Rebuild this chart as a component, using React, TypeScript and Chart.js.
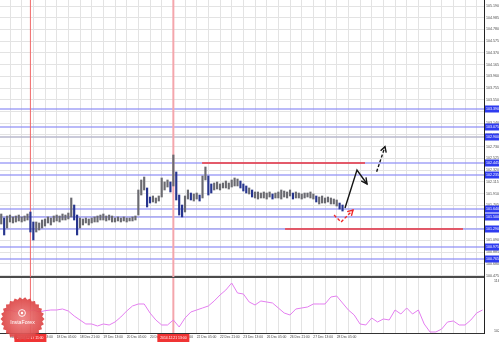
import React, { useEffect, useRef } from 'react';
import { Chart, registerables } from 'chart.js';

Chart.register(...registerables);

const FONT = 'Liberation Sans';

// time axis (hours)
const X_MIN = 1.143;
const X_MAX = 333.0;
const BAR_START_HOUR = 2;
const BAR_STEP_HOURS = 2;
const GRID_STEP_HOURS = 8;

const xLabelHours = [8, 24, 40, 56, 72, 88, 104, 120, 136, 152, 168, 184, 200, 216, 232];
const xLabels = [
  '16 Dec 21:00', '17 Dec 13:00', '18 Dec 05:00', '18 Dec 21:00', '19 Dec 13:00',
  '20 Dec 05:00', '20 Dec 21:00', '21 Dec 13:00', '22 Dec 05:00', '22 Dec 21:00',
  '23 Dec 13:00', '26 Dec 05:00', '26 Dec 21:00', '27 Dec 13:00', '28 Dec 05:00',
];

// price axis
const Y_MIN = 100.45;
const Y_MAX = 105.295;
const priceTicks = [
  105.19, 104.985, 104.78, 104.575, 104.37, 104.165, 103.96, 103.755, 103.55, 103.345,
  103.14, 102.935, 102.73, 102.525, 102.32, 102.115, 101.91, 101.705, 101.5, 101.295,
  101.09, 100.885, 100.68, 100.475,
];

// price bars (2h)
const barHigh = [
  101.552, 101.482, 101.517, 101.534, 101.5, 101.517, 101.534, 101.5, 101.517, 101.552,
  101.587, 101.412, 101.412, 101.395, 101.447, 101.465, 101.5, 101.482, 101.517, 101.534,
  101.517, 101.552, 101.534, 101.569, 101.832, 101.709, 101.534, 101.482, 101.465, 101.482,
  101.465, 101.482, 101.5, 101.517, 101.534, 101.552, 101.517, 101.534, 101.517, 101.482,
  101.5, 101.482, 101.5, 101.482, 101.482, 101.5, 101.517, 101.972, 102.147, 102.199,
  102.007, 101.849, 101.867, 101.832, 101.867, 102.182, 102.112, 102.147, 102.112, 102.584,
  102.287, 101.884, 101.709, 101.867, 101.972, 101.919, 101.902, 101.919, 101.884, 102.217,
  102.374, 102.217, 102.077, 102.094, 102.112, 102.077, 102.094, 102.129, 102.094, 102.147,
  102.182, 102.164, 102.129, 102.077, 102.042, 102.007, 101.972, 101.937, 101.937, 101.919,
  101.937, 101.919, 101.937, 101.902, 101.919, 101.937, 101.972, 101.954, 101.937, 101.972,
  101.919, 101.937, 101.919, 101.902, 101.919, 101.919, 101.937, 101.902, 101.867, 101.849,
  101.867, 101.832, 101.849, 101.832, 101.814, 101.797, 101.744, 101.709,
];
const barLow = [
  101.377, 101.185, 101.307, 101.412, 101.395, 101.412, 101.43, 101.412, 101.43, 101.447,
  101.237, 101.097, 101.237, 101.272, 101.307, 101.342, 101.395, 101.36, 101.412, 101.43,
  101.412, 101.447, 101.447, 101.465, 101.5, 101.447, 101.185, 101.307, 101.36, 101.395,
  101.36, 101.395, 101.412, 101.412, 101.447, 101.447, 101.43, 101.447, 101.412, 101.412,
  101.43, 101.412, 101.43, 101.412, 101.43, 101.43, 101.447, 101.534, 101.884, 101.972,
  101.674, 101.744, 101.762, 101.744, 101.779, 101.849, 101.972, 102.024, 101.937, 102.042,
  101.797, 101.534, 101.5, 101.587, 101.814, 101.797, 101.779, 101.814, 101.779, 101.832,
  102.147, 101.884, 101.919, 101.972, 101.989, 101.972, 102.007, 102.007, 101.989, 102.024,
  102.042, 102.042, 102.007, 101.954, 101.919, 101.902, 101.849, 101.832, 101.814, 101.832,
  101.832, 101.814, 101.849, 101.814, 101.832, 101.832, 101.814, 101.849, 101.832, 101.867,
  101.814, 101.832, 101.832, 101.814, 101.832, 101.849, 101.832, 101.814, 101.762, 101.727,
  101.744, 101.744, 101.762, 101.727, 101.727, 101.692, 101.639, 101.604,
];

// horizontal levels
const blueLinePrices = [103.39, 103.075, 102.445, 102.235, 101.64, 101.5, 101.29, 100.975, 100.765];
const grayLinePrices = [102.9];
const redSegStart = [139.7, 196.6];
const redSegEnd = [251.4, 318.6];
const redSegPrice = [102.445, 101.29];

// vertical lines
const vLineHours = [22, 120];
const vLineLabels = ['2014.12.17 11:00', '2014.12.21 13:00'];

// forecast arrows
const solidArrowHours = [237.7, 245.9, 252.8];
const solidArrowPrices = [101.657, 102.322, 102.077];
const solidHeadHours = [252.1, 252.8, 248.8];
const solidHeadPrices = [102.194, 102.077, 102.131];
const dashArrowHours = [259.4, 265.1];
const dashArrowPrices = [102.292, 102.729];
const dashHeadHours = [262.1, 265.1, 265.95];
const dashHeadPrices = [102.659, 102.729, 102.626];
const redVHours = [230.2, 235.0, 243.2];
const redVPrices = [101.534, 101.412, 101.622];
const redVHeadHours = [239.2, 243.2, 242.1];
const redVHeadPrices = [101.594, 101.622, 101.52];

// indicator panel
const IND_MIN = 101.503;
const IND_MAX = 117.138;
const indTicks = [116.285, 102.072];
const indHours = [
  4, 8, 12, 16, 20, 24, 28, 32, 36, 40, 44, 48, 52, 56, 60, 64, 68, 72, 76, 80,
  84, 88, 92, 96, 100, 104, 108, 112, 116, 120, 124, 128, 132, 136, 140, 144, 148, 152, 156, 160,
  164, 168, 172, 176, 180, 184, 188, 192, 196, 200, 204, 208, 212, 216, 220, 224, 228, 232, 236, 240,
  244, 248, 252, 256, 260, 264, 268, 272, 276, 280, 284, 288, 292, 296, 300, 304, 308, 312, 316, 320,
  324, 328, 332,
];
const indValues = [
  107.757, 108.042, 107.473, 108.326, 107.757, 108.042, 107.473, 107.843, 108.042, 108.042,
  108.326, 107.757, 106.336, 105.199, 104.062, 104.062, 103.493, 104.062, 103.778, 104.631,
  106.052, 107.757, 109.179, 109.747, 109.747, 107.189, 105.199, 103.778, 103.778, 105.199,
  103.209, 105.768, 107.473, 108.042, 108.61, 109.179, 110.6, 112.306, 113.727, 115.716,
  112.874, 112.59, 110.316, 109.463, 110.6, 110.316, 110.031, 108.61, 107.189, 106.62,
  108.326, 108.61, 108.894, 109.747, 109.747, 109.747, 111.737, 112.021, 110.031, 108.042,
  106.62, 104.062, 103.778, 105.768, 104.631, 105.483, 105.199, 108.042, 106.905, 108.61,
  106.905, 108.042, 104.062, 101.788, 101.788, 102.641, 104.631, 104.915, 103.778, 103.778,
  105.199, 107.189, 108.042,
];

const GRID = '#e3e3e3';
const GRAY_BAR = '#6a6a70';
const NAVY_BAR = '#27358e';

const gridTicks = () => {
  const t: { value: number }[] = [];
  for (let v = GRID_STEP_HOURS; v < X_MAX; v += GRID_STEP_HOURS) t.push({ value: v });
  return t;
};

const lineDs = (hours: number[], prices: number[], color: string, width: number, dash: number[], order: number) => ({
  type: 'line' as const,
  data: hours.map((h, i) => ({ x: h, y: prices[i] })),
  borderColor: color,
  borderWidth: width,
  borderDash: dash,
  pointRadius: 0,
  fill: false,
  tension: 0,
  order,
});

const priceBoxPlugin = {
  id: 'priceBoxes',
  afterDraw(chart: any) {
    const { ctx, chartArea } = chart;
    const ys = chart.scales.y;
    ctx.save();
    ctx.font = `3.6px ${FONT}`;
    ctx.textBaseline = 'middle';
    ctx.textAlign = 'left';
    [...blueLinePrices, ...grayLinePrices].forEach((p) => {
      const py = ys.getPixelForValue(p);
      ctx.fillStyle = '#2f3cf0';
      ctx.fillRect(chartArea.right + 1, Math.round(py) - 3.5, chart.width - chartArea.right - 1, 7);
      ctx.fillStyle = '#ffffff';
      ctx.fillText(p.toFixed(3), chartArea.right + 2, py);
    });
    ctx.restore();
  },
};

const timeBoxPlugin = {
  id: 'timeBoxes',
  afterDraw(chart: any) {
    const { ctx, chartArea } = chart;
    const xs = chart.scales.x;
    ctx.save();
    ctx.font = `3.4px ${FONT}`;
    ctx.textBaseline = 'middle';
    ctx.textAlign = 'center';
    vLineHours.forEach((h, i) => {
      const px = xs.getPixelForValue(h);
      ctx.fillStyle = '#f03434';
      ctx.fillRect(px - 16, chartArea.bottom + 1, 32, 8);
      ctx.fillStyle = '#ffffff';
      ctx.fillText(vLineLabels[i], px, chartArea.bottom + 5);
    });
    ctx.restore();
  },
};

function Logo() {
  const pts: string[] = [];
  const n = 26;
  for (let i = 0; i < n * 2; i++) {
    const r = i % 2 === 0 ? 22 : 19.8;
    const a = (Math.PI * i) / n;
    pts.push(`${(22.5 + r * Math.cos(a)).toFixed(2)},${(23 + r * Math.sin(a)).toFixed(2)}`);
  }
  return (
    <svg width={46} height={46} style={{ position: 'fixed', left: 0, top: 296 }}>
      <defs>
        <radialGradient id="lgrad">
          <stop offset="0%" stopColor="#ec8080" />
          <stop offset="100%" stopColor="#dc4444" />
        </radialGradient>
      </defs>
      <polygon points={pts.join(' ')} fill="url(#lgrad)" opacity={0.93} />
      <circle cx={22} cy={17} r={3.4} fill="none" stroke="#ffffff" strokeWidth={0.9} />
      <circle cx={22} cy={17} r={1.2} fill="#ffffff" />
      <text x={22.5} y={27.5} fontSize={5.2} fill="#ffffff" textAnchor="middle" fontFamily={FONT}>
        InstaForex
      </text>
    </svg>
  );
}

export default function App() {
  const topRef = useRef<HTMLCanvasElement>(null);
  const botRef = useRef<HTMLCanvasElement>(null);

  useEffect(() => {
    document.body.style.margin = '0';
    Chart.defaults.font.family = FONT;

    const datasets: any[] = [];
    datasets.push({
      type: 'bar',
      data: barLow.map((lo, i) => ({ x: BAR_START_HOUR + BAR_STEP_HOURS * i, y: [lo, barHigh[i]] })),
      backgroundColor: (c: any) => {
        const i = c.dataIndex;
        if (i === 0) return GRAY_BAR;
        const drop = (barHigh[i - 1] + barLow[i - 1] - barHigh[i] - barLow[i]) / 2;
        return drop > 0.03 ? NAVY_BAR : GRAY_BAR;
      },
      barThickness: 1.5,
      borderWidth: 0,
      order: 2,
    });
    blueLinePrices.forEach((p) => datasets.push(lineDs([X_MIN, X_MAX], [p, p], 'rgba(140,140,245,0.8)', 1.5, [], 6)));
    grayLinePrices.forEach((p) => datasets.push(lineDs([X_MIN, X_MAX], [p, p], '#b9b9cc', 1.5, [], 6)));
    redSegPrice.forEach((p, i) => datasets.push(lineDs([redSegStart[i], redSegEnd[i]], [p, p], '#f03a3a', 1.5, [], 5)));
    datasets.push(lineDs([vLineHours[0], vLineHours[0]], [Y_MIN, Y_MAX], '#f06a6a', 1, [], 4));
    datasets.push(lineDs([vLineHours[1], vLineHours[1]], [Y_MIN, Y_MAX], '#f4a6ac', 2, [], 4));
    datasets.push(lineDs(solidArrowHours, solidArrowPrices, '#151515', 1.4, [], 0));
    datasets.push(lineDs(solidHeadHours, solidHeadPrices, '#151515', 1.4, [], 0));
    datasets.push(lineDs(dashArrowHours, dashArrowPrices, '#151515', 1.4, [3, 2], 0));
    datasets.push(lineDs(dashHeadHours, dashHeadPrices, '#151515', 1.4, [], 0));
    datasets.push(lineDs(redVHours, redVPrices, '#f02828', 1.4, [3, 2], 0));
    datasets.push(lineDs(redVHeadHours, redVHeadPrices, '#f02828', 1.4, [], 0));

    const top = new Chart(topRef.current!, {
      type: 'bar',
      data: { datasets },
      options: {
        animation: false,
        responsive: false,
        devicePixelRatio: 1,
        events: [],
        layout: { padding: 0 },
        plugins: { legend: { display: false }, tooltip: { enabled: false } },
        scales: {
          x: {
            type: 'linear',
            min: X_MIN,
            max: X_MAX,
            offset: false,
            grid: { color: GRID, lineWidth: 1, drawTicks: false, offset: false },
            border: { display: true, color: '#4c4c4c', width: 2 },
            ticks: { display: false },
            afterBuildTicks: (s: any) => { s.ticks = gridTicks(); },
            afterFit: (s: any) => { s.height = 1; s.paddingLeft = 0; s.paddingRight = 0; },
          },
          y: {
            type: 'linear',
            position: 'right',
            min: Y_MIN,
            max: Y_MAX,
            grid: { color: GRID, lineWidth: 1, drawTicks: false },
            border: { display: true, color: '#222222', width: 1 },
            ticks: {
              color: '#4a4a4a',
              font: { size: 3.6, family: FONT },
              padding: 2,
              autoSkip: false,
              callback: (v: any) => Number(v).toFixed(3),
            },
            afterBuildTicks: (s: any) => { s.ticks = priceTicks.map((v) => ({ value: v })); },
            afterFit: (s: any) => { s.width = 15; s.paddingTop = 0; s.paddingBottom = 0; },
          },
        },
      } as any,
      plugins: [priceBoxPlugin],
    });

    const bot = new Chart(botRef.current!, {
      type: 'line',
      data: {
        datasets: [
          {
            data: indHours.map((h, i) => ({ x: h, y: indValues[i] })),
            borderColor: '#e47ef0',
            borderWidth: 1,
            pointRadius: 0,
            fill: false,
            tension: 0,
            order: 0,
          },
          lineDs([vLineHours[0], vLineHours[0]], [IND_MIN, IND_MAX], '#f06a6a', 1, [], 4),
          lineDs([vLineHours[1], vLineHours[1]], [IND_MIN, IND_MAX], '#f4a6ac', 2, [], 4),
        ],
      },
      options: {
        animation: false,
        responsive: false,
        devicePixelRatio: 1,
        events: [],
        layout: { padding: 0 },
        plugins: { legend: { display: false }, tooltip: { enabled: false } },
        scales: {
          x: {
            type: 'linear',
            min: X_MIN,
            max: X_MAX,
            grid: { color: GRID, lineWidth: 1, drawTicks: false },
            border: { display: true, color: '#333333', width: 1 },
            ticks: {
              color: '#444444',
              font: { size: 3.3, family: FONT },
              padding: 2,
              align: 'start',
              maxRotation: 0,
              autoSkip: false,
              callback: (v: any) => {
                const k = xLabelHours.indexOf(Number(v));
                return k >= 0 ? xLabels[k] : '';
              },
            },
            afterBuildTicks: (s: any) => { s.ticks = gridTicks(); },
            afterFit: (s: any) => { s.height = 9; s.paddingLeft = 0; s.paddingRight = 0; },
          },
          y: {
            type: 'linear',
            position: 'right',
            min: IND_MIN,
            max: IND_MAX,
            grid: { display: false },
            border: { display: true, color: '#222222', width: 1 },
            ticks: {
              color: '#4a4a4a',
              font: { size: 3.6, family: FONT },
              padding: 2,
              autoSkip: false,
              callback: (v: any) => Number(v).toFixed(3),
            },
            afterBuildTicks: (s: any) => { s.ticks = indTicks.map((v) => ({ value: v })); },
            afterFit: (s: any) => { s.width = 15; s.paddingTop = 0; s.paddingBottom = 0; },
          },
        },
      } as any,
      plugins: [timeBoxPlugin],
    });

    return () => {
      top.destroy();
      bot.destroy();
    };
  }, []);

  return (
    <div style={{ position: 'fixed', left: 0, top: 0, width: 499, height: 342, background: '#ffffff', overflow: 'hidden' }}>
      <canvas ref={topRef} width={499} height={278} style={{ position: 'absolute', left: 0, top: 0, width: 499, height: 278 }} />
      <canvas ref={botRef} width={499} height={64} style={{ position: 'absolute', left: 0, top: 278, width: 499, height: 64 }} />
      <Logo />
    </div>
  );
}
